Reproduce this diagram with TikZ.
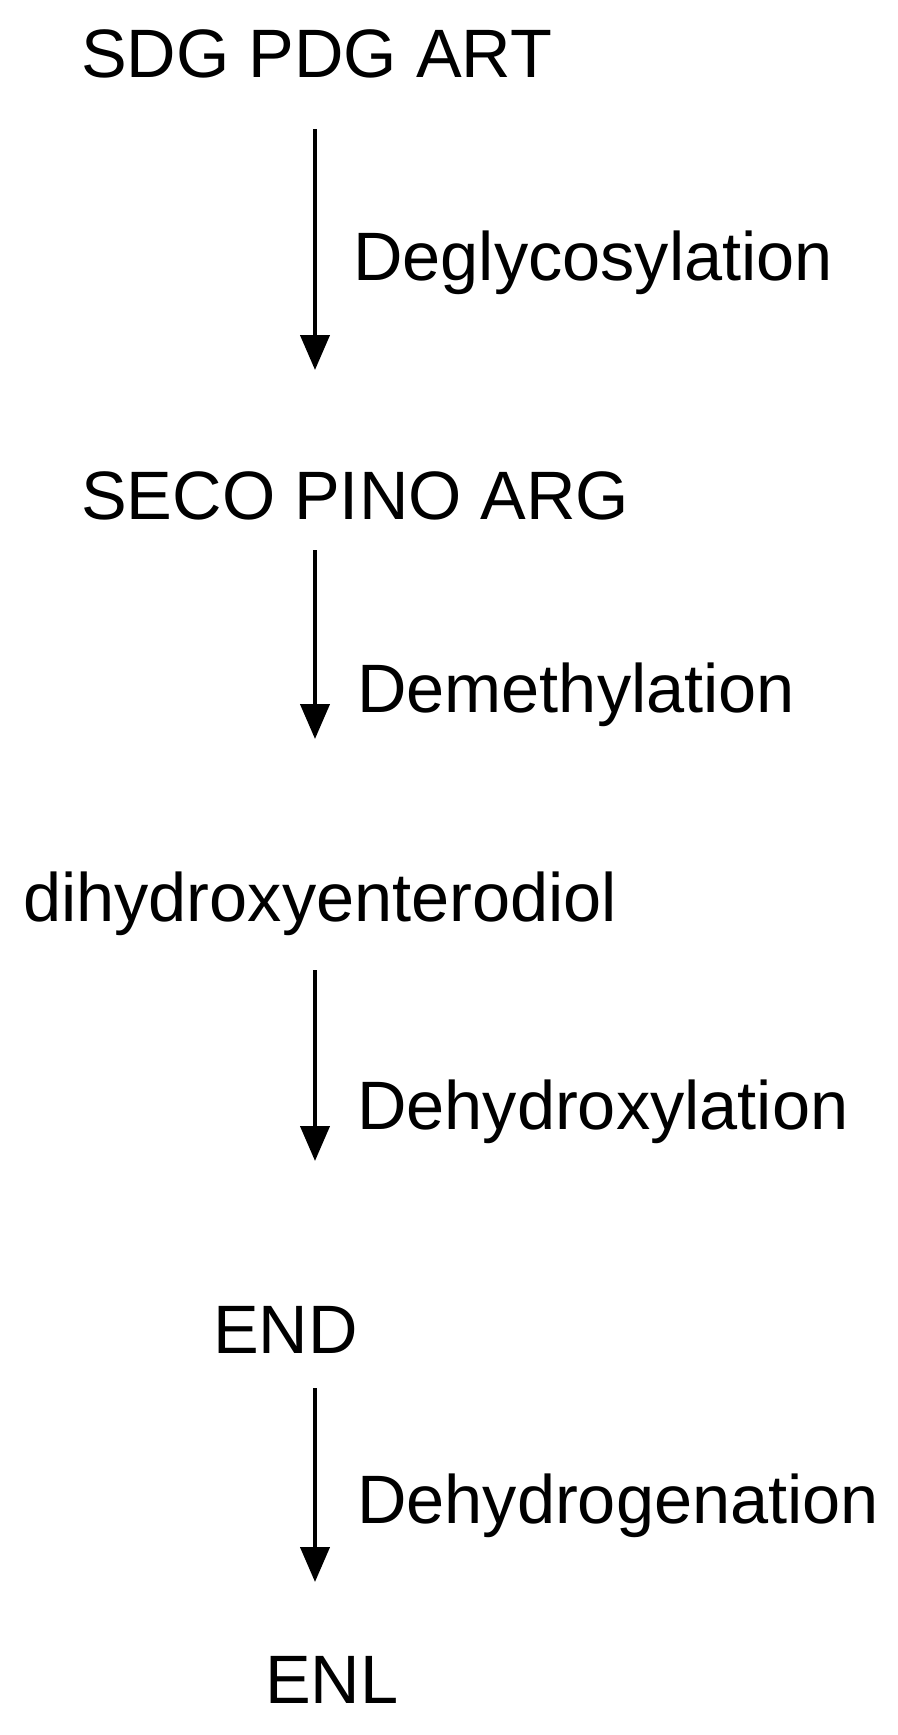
\documentclass[tikz,border=0pt]{standalone}
\usepackage{fontspec}
\setmainfont{Liberation Sans}
\usetikzlibrary{arrows.meta}
\begin{document}
\begin{tikzpicture}[x=1pt,y=-1pt,
  lbl/.style={anchor=base west,inner sep=0pt,font=\fontsize{68.5}{80}\selectfont},
  conn/.style={line width=4.2pt,-{Triangle[width=29pt 0 0,length=35pt 0 0]}}]
\useasboundingbox[fill=white] (0,0) rectangle (897,1735);
\node[lbl] (n1) at (81,77) {SDG PDG ART};
\node[lbl] (l1) at (353,280) {Deglycosylation};
\node[lbl] (n2) at (81,519) {SECO PINO ARG};
\node[lbl] (l2) at (357,712) {Demethylation};
\node[lbl] (n3) at (23,921) {dihydroxyenterodiol};
\node[lbl] (l3) at (357,1129) {Dehydroxylation};
\node[lbl] (n4) at (213,1353) {END};
\node[lbl] (l4) at (357,1523) {Dehydrogenation};
\node[lbl] (n5) at (265,1703) {ENL};
\coordinate (a1s) at (315,129);
\coordinate (a1e) at (315,370);
\coordinate (a2s) at (315,550);
\coordinate (a2e) at (315,739);
\coordinate (a3s) at (315,970);
\coordinate (a3e) at (315,1161);
\coordinate (a4s) at (315,1388);
\coordinate (a4e) at (315,1582);
\draw[conn] (a1s) -- (a1e);
\draw[conn] (a2s) -- (a2e);
\draw[conn] (a3s) -- (a3e);
\draw[conn] (a4s) -- (a4e);
\end{tikzpicture}
\end{document}
